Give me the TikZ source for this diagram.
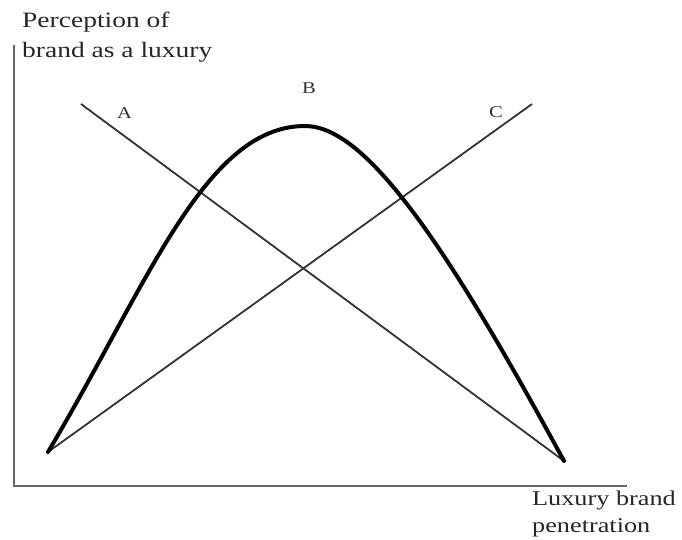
\documentclass[tikz,border=0pt]{standalone}
\usepackage{fontspec}
\setmainfont{Liberation Serif}[FakeStretch=1.25]
\begin{document}
\begin{tikzpicture}[x=1pt,y=-1pt,
  axis/.style={draw=black!60,line width=2.8pt},
  thinline/.style={draw=black!80,line width=1.8pt},
  curveline/.style={draw=black,line width=4pt,line cap=round,line join=round},
  axlabel/.style={inner sep=0pt,anchor=base west,text=black!85,font=\fontsize{22}{26}\selectfont},
  letter/.style={inner sep=0pt,anchor=base west,text=black!80,font=\fontsize{16.5}{18}\selectfont}]
\useasboundingbox (0,0) rectangle (682,539);
% axes
\coordinate (ytop) at (14,45);
\coordinate (orig) at (14,486);
\coordinate (xend) at (627,486);
\draw[axis] (ytop) -- (orig) -- (xend);
% end points
\coordinate (L) at (48,452);
\coordinate (R) at (564,461);
\coordinate (Atop) at (81,104);
\coordinate (Ctop) at (532,104);
\coordinate (P) at (305,126);
% straight lines
\draw[thinline] (Atop) -- (R);
\draw[thinline] (L) -- (Ctop);
% curve B
\draw[curveline] (L) .. controls (148,284) and (205,126) .. (P)
  .. controls (365,126) and (444,240) .. (R);
% labels
\node[axlabel] (ylab1) at (22,27) {Perception of};
\node[axlabel] (ylab2) at (22,57) {brand as a luxury};
\node[axlabel,font=\fontsize{21}{25}\selectfont] (xlab1) at (532,505) {Luxury brand};
\node[axlabel,font=\fontsize{21}{25}\selectfont] (xlab2) at (532,532) {penetration};
\node[letter] (la) at (117,118) {A};
\node[letter] (lb) at (302,93) {B};
\node[letter] (lc) at (489,117) {C};
\end{tikzpicture}
\end{document}
